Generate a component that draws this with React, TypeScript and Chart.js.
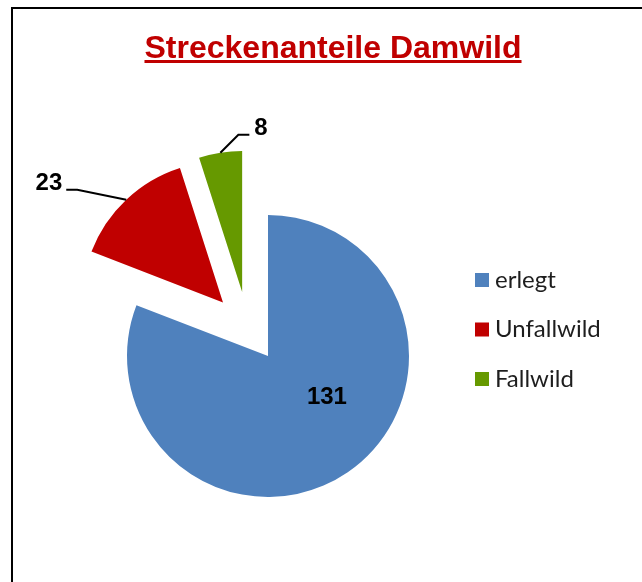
import React, { useEffect, useRef } from 'react';
import { Chart, registerables } from 'chart.js';

Chart.register(...registerables);

// ---- data ----
const categories: string[] = ['erlegt', 'Unfallwild', 'Fallwild'];
const values: number[] = [131, 23, 8];
const sliceColors: string[] = ['#4F81BD', '#C00000', '#669900'];
const chartTitle = 'Streckenanteile Damwild';

// ---- styling / layout config ----
const explode = [null, { dist: 70, deg: 320 }, { dist: 69, deg: 338 }];
const labelCfg: any[] = [
  { type: 'inside', frac: 0.51, deg: 125 },
  { type: 'leader', elbow: [-49, -10], end: [-60, -10], align: 'right' },
  { type: 'leader', elbow: [18, -18], end: [29, -18], align: 'left' },
];
const legendCfg = { x: 475, y0: 280, step: 49.5, box: 14, gap: 6 };

function shiftFor(i: number): [number, number] {
  const e = explode[i];
  if (!e) return [0, 0];
  const r = (e.deg * Math.PI) / 180;
  return [Math.sin(r) * e.dist, -Math.cos(r) * e.dist];
}

const piePlugin = {
  id: 'piePlugin',
  beforeDatasetsDraw(chart: any) {
    const meta = chart.getDatasetMeta(0);
    const ctx = chart.ctx;
    meta.data.forEach((arc: any, i: number) => {
      const [tx, ty] = shiftFor(i);
      ctx.save();
      ctx.translate(tx, ty);
      arc.draw(ctx, chart.chartArea);
      ctx.restore();
    });
    return false;
  },
  afterDraw(chart: any) {
    const meta = chart.getDatasetMeta(0);
    const ctx = chart.ctx;
    const ds = chart.data.datasets[0];
    ctx.save();
    ctx.font = 'bold 24px "Liberation Sans", Arial, sans-serif';
    ctx.fillStyle = '#000';
    ctx.strokeStyle = '#000';
    ctx.lineWidth = 2;
    meta.data.forEach((arc: any, i: number) => {
      const [tx, ty] = shiftFor(i);
      const cx = arc.x + tx;
      const cy = arc.y + ty;
      const r = arc.outerRadius;
      const txt = String(ds.data[i]);
      const cfg = labelCfg[i];
      if (cfg.type === 'inside') {
        const a = (cfg.deg * Math.PI) / 180;
        const lx = cx + Math.sin(a) * r * cfg.frac;
        const ly = cy - Math.cos(a) * r * cfg.frac;
        ctx.textAlign = 'center';
        ctx.textBaseline = 'middle';
        ctx.fillText(txt, lx, ly);
      } else {
        const mid = (arc.startAngle + arc.endAngle) / 2;
        const px = cx + Math.cos(mid) * r;
        const py = cy + Math.sin(mid) * r;
        const ex = px + cfg.elbow[0];
        const ey = py + cfg.elbow[1];
        const qx = px + cfg.end[0];
        const qy = py + cfg.end[1];
        ctx.beginPath();
        ctx.moveTo(px, py);
        ctx.lineTo(ex, ey);
        ctx.lineTo(qx, qy);
        ctx.stroke();
        ctx.textBaseline = 'alphabetic';
        if (cfg.align === 'right') {
          ctx.textAlign = 'right';
          ctx.fillText(txt, qx - 4, qy);
        } else {
          ctx.textAlign = 'left';
          ctx.fillText(txt, qx + 5, qy);
        }
      }
    });
    // legend
    ctx.font = '24px Lato, "Open Sans", sans-serif';
    ctx.textAlign = 'left';
    ctx.textBaseline = 'middle';
    chart.data.labels.forEach((lab: string, i: number) => {
      const y = legendCfg.y0 + i * legendCfg.step;
      ctx.fillStyle = ds.backgroundColor[i];
      ctx.fillRect(legendCfg.x, y - legendCfg.box / 2, legendCfg.box, legendCfg.box);
      ctx.fillStyle = '#1e1e1e';
      ctx.fillText(lab, legendCfg.x + legendCfg.box + legendCfg.gap, y);
    });
    ctx.restore();
  },
};

export default function App() {
  const ref = useRef<HTMLCanvasElement | null>(null);
  useEffect(() => {
    if (!ref.current) return;
    const chart = new Chart(ref.current, {
      type: 'pie',
      data: {
        labels: categories,
        datasets: [
          {
            data: values,
            backgroundColor: sliceColors,
            borderWidth: 0,
            radius: 141,
            clip: false as any,
          } as any,
        ],
      },
      options: {
        responsive: false,
        animation: false,
        events: [],
        layout: { padding: { left: 60, right: 166, top: 152, bottom: 22 } },
        plugins: {
          legend: { display: false },
          title: { display: false },
          tooltip: { enabled: false },
        },
      },
      plugins: [piePlugin as any],
    });
    return () => chart.destroy();
  }, []);

  return (
    <div
      style={{
        position: 'absolute',
        left: 0,
        top: 0,
        width: 642,
        height: 582,
        overflow: 'hidden',
        background: '#fff',
      }}
    >
      <div
        style={{
          position: 'absolute',
          left: 11,
          top: 7,
          width: 800,
          height: 800,
          borderLeft: '2px solid #000',
          borderTop: '2px solid #000',
        }}
      />
      <canvas ref={ref} width={642} height={582} style={{ position: 'absolute', left: 0, top: 0 }} />
      <div
        style={{
          position: 'absolute',
          left: 0,
          top: 31,
          width: 666,
          textAlign: 'center',
          font: 'bold 32px "Liberation Sans", Arial, sans-serif',
          lineHeight: '32px',
          color: '#C00000',
          textDecoration: 'underline',
          textDecorationThickness: '3px',
        }}
      >
        {chartTitle}
      </div>
    </div>
  );
}
